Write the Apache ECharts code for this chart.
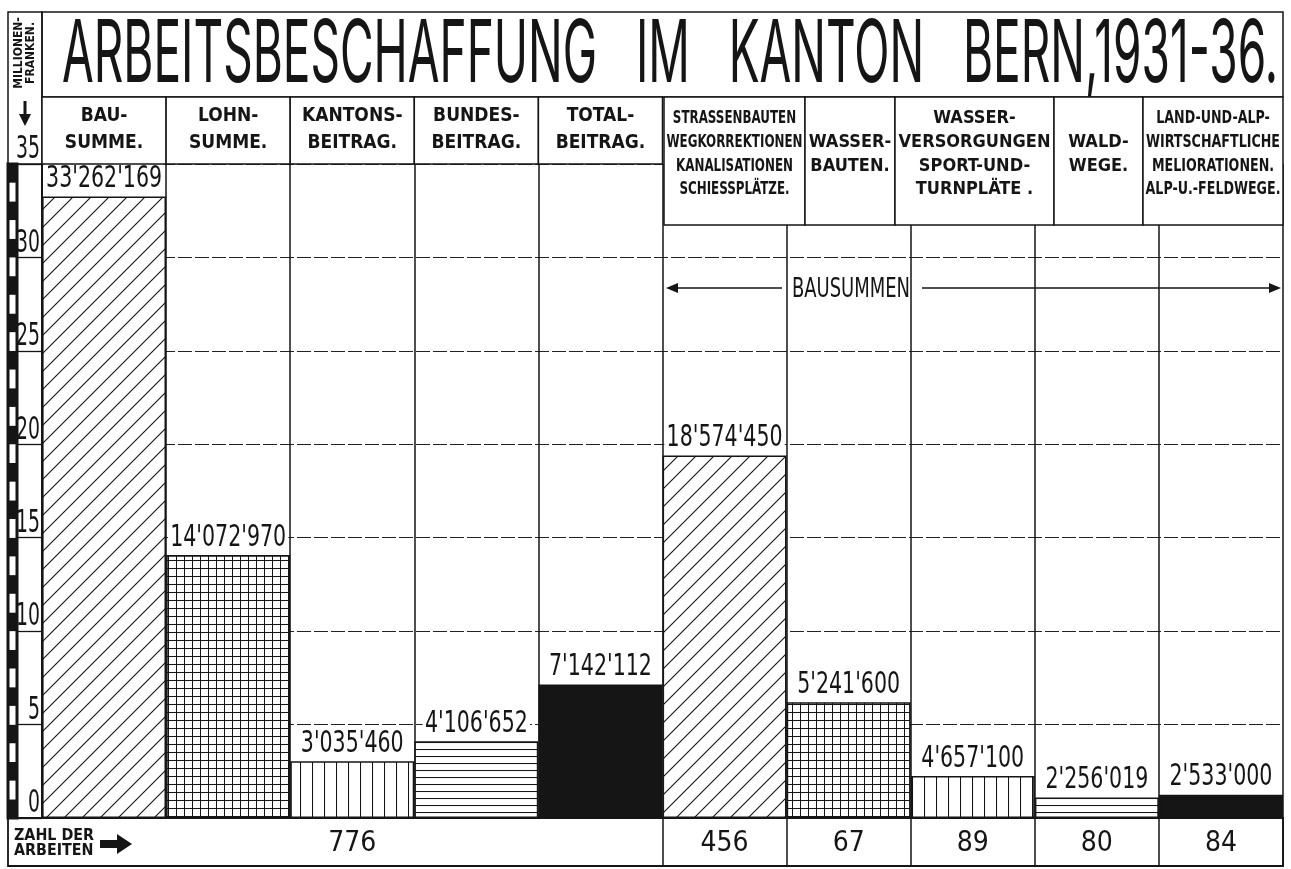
<!DOCTYPE html>
<html><head><meta charset="utf-8">
<script src="https://cdn.jsdelivr.net/npm/echarts@6/dist/echarts.min.js"></script>
<style>html,body{margin:0;padding:0;background:#fff}#c{width:1291px;height:869px}</style>
</head><body><div id="c"></div>
<script>
// ---------------- data ----------------
const titleText = 'ARBEITSBESCHAFFUNG IM KANTON BERN,1931-36.';
const unitLabel = 'MILLIONEN-\nFRANKEN.';
const countLabel = 'ZAHL DER\nARBEITEN';
const groupLabel = 'BAUSUMMEN';
const categories = [
  'BAU-\nSUMME.', 'LOHN-\nSUMME.', 'KANTONS-\nBEITRAG.', 'BUNDES-\nBEITRAG.', 'TOTAL-\nBEITRAG.',
  'STRASSENBAUTEN\nWEGKORREKTIONEN\nKANALISATIONEN\nSCHIESSPLÄTZE.',
  'WASSER-\nBAUTEN.',
  'WASSER-\nVERSORGUNGEN\nSPORT-UND-\nTURNPLÄTE .',
  'WALD-\nWEGE.',
  'LAND-UND-ALP-\nWIRTSCHAFTLICHE\nMELIORATIONEN.\nALP-U.-FELDWEGE.'
];
// figures printed above the bars (Franken)
const printedValues = [33262169, 14072970, 3035460, 4106652, 7142112, 18574450, 5241600, 4657100, 2256019, 2533000];
// bar heights as drawn in the picture (Millionen Franken)
const barHeights = [33.26, 14.07, 3.04, 4.11, 7.14, 19.4, 6.2, 2.25, 1.1, 1.25];
// "Zahl der Arbeiten" row (776 is shared by the first five columns)
const workCounts = ['', '', '776', '', '', '456', '67', '89', '80', '84'];
const yTickLabels = [0, 5, 10, 15, 20, 25, 30, 35];
const yMin = 0, yMax = 35, yStep = 5;

// ---------------- styles / layout ----------------
const NARROW = "'Liberation Sans Narrow','DejaVu Sans Condensed',sans-serif";
const TITLEF = "Inter,'DejaVu Sans Condensed',sans-serif";
const INK = '#151515';
const L = 42, R = 1283, T = 164, B = 818;
const FL = 8, FT = 12, TITLE_B = 97, RHEAD_B = 225, FB = 866;
const colW = (R - L) / categories.length;
const rightHeadEdges = [664, 805, 895, 1054, 1143, 1283];
const patternKinds = ['diag', 'grid', 'vert', 'horiz', 'solid', 'diag', 'grid', 'vert', 'horiz', 'solid'];

function makePattern(kind) {
  if (kind === 'solid') return INK;
  const c = document.createElement('canvas');
  const dims = {diag: [18, 18], grid: [8, 8], vert: [12, 4], horiz: [4, 7]}[kind];
  const w = dims[0], h = dims[1];
  c.width = w; c.height = h;
  const ctx = c.getContext('2d');
  ctx.fillStyle = '#fff'; ctx.fillRect(0, 0, w, h);
  ctx.strokeStyle = INK; ctx.lineWidth = 1.1;
  ctx.beginPath();
  if (kind === 'diag') {
    ctx.moveTo(-2, h + 2); ctx.lineTo(w + 2, -2);
    ctx.moveTo(-2, 2); ctx.lineTo(2, -2);
    ctx.moveTo(w - 2, h + 2); ctx.lineTo(w + 2, h - 2);
  } else if (kind === 'grid') {
    ctx.lineWidth = 1;
    ctx.moveTo(0.5, 0); ctx.lineTo(0.5, h); ctx.moveTo(0, 0.5); ctx.lineTo(w, 0.5);
  } else if (kind === 'vert') {
    ctx.moveTo(0.5, 0); ctx.lineTo(0.5, h);
  } else {
    ctx.moveTo(0, 0.5); ctx.lineTo(w, 0.5);
  }
  ctx.stroke();
  return {image: c, repeat: 'repeat'};
}

const mctx = document.createElement('canvas').getContext('2d');
function textW(str, size, fam, weight) {
  mctx.font = (weight || 'normal') + ' ' + size + 'px ' + fam;
  return Math.max.apply(null, str.split('\n').map(s => mctx.measureText(s).width));
}
function fit(str, size, fam, weight, maxW) {
  return Math.min(1, maxW / textW(str, size, fam, weight));
}
function fmtNum(n) { return String(n).replace(/\B(?=(\d{3})+(?!\d))/g, "'"); }

const VAL_FS = 31;
const valScale = Math.min.apply(null, printedValues.map(v => fit(fmtNum(v), VAL_FS, NARROW, 'normal', 116)));
const TICK_FS = 32;
const tickScale = fit('35', TICK_FS, NARROW, 'normal', 24);

// ---------------- graphics (frame, headers, annotations) ----------------
const g = [];
const Z = 20;
function rect(x, y, w, h, fill, lw, z) {
  g.push({type: 'rect', z: z || Z, shape: {x: x, y: y, width: w, height: h},
    style: {fill: fill || 'none', stroke: INK, lineWidth: lw || 1.5}});
}
function line(x1, y1, x2, y2, lw) {
  g.push({type: 'line', z: Z + 1, shape: {x1: x1, y1: y1, x2: x2, y2: y2}, style: {stroke: INK, lineWidth: lw || 1.5}});
}
function text(str, cx, cy, size, fam, weight, maxW, lh, extra) {
  const s = maxW ? fit(str, size, fam, weight, maxW) : 1;
  g.push(Object.assign({type: 'text', z: Z + 2, x: cx, y: cy, scaleX: s,
    style: {text: str, fontSize: size, fontFamily: fam, fontWeight: weight || 'normal', fill: INK,
      align: 'center', verticalAlign: 'middle', lineHeight: lh || size * 1.2}}, extra || {}));
}

// title box + title (words set wide apart as in the lettering)
rect(L, FT, R - L, TITLE_B - FT, '#fff');
const titleShown = titleText.split(' ').join('   ');
const tScale = 1216 / textW(titleShown, 86, TITLEF, 400);
g.push({type: 'text', z: Z + 2, x: 670, y: 56, scaleX: tScale,
  style: {text: titleShown, fontSize: 86, fontFamily: TITLEF, fontWeight: 400, fill: INK, align: 'center', verticalAlign: 'middle'}});

// left strip box
rect(FL, FT, L - FL, B - FT, 'none', 1.5);
line(FL, T, L, T);
text(unitLabel, 25, 53, 12, NARROW, 'bold', 76, 12, {rotation: Math.PI / 2});
g.push({type: 'polygon', z: Z + 2, shape: {points: [[23.5, 101], [26.5, 101], [26.5, 114], [31, 114], [25, 126], [19, 114], [23.5, 114]]}, style: {fill: INK}});
g.push({type: 'rect', z: Z, shape: {x: FL, y: T, width: 9, height: B - T}, style: {fill: 'none', stroke: INK, lineWidth: 3}});

// header cells
categories.forEach(function (name, i) {
  let x0, x1, y1, cy, lh, size;
  if (i < 5) { x0 = L + i * colW; x1 = x0 + colW; y1 = T; cy = 130; lh = 27; size = 19; }
  else { x0 = rightHeadEdges[i - 5]; x1 = rightHeadEdges[i - 4]; y1 = RHEAD_B; cy = 154; lh = 23.7; size = 18; }
  rect(x0, TITLE_B, x1 - x0, y1 - TITLE_B, '#fff');
  text(name, (x0 + x1) / 2, cy, size, NARROW, 'bold', x1 - x0 - 5, lh);
});

// BAUSUMMEN arrow
text(groupLabel, 851, 290, 27, NARROW, 'normal', 118, 30);
line(668, 288, 782, 288, 1.6);
line(922, 288, 1276, 288, 1.6);
g.push({type: 'polygon', z: Z + 2, shape: {points: [[666, 288], [678, 283], [678, 293]]}, style: {fill: INK}});
g.push({type: 'polygon', z: Z + 2, shape: {points: [[1281, 288], [1269, 283], [1269, 293]]}, style: {fill: INK}});

// bottom row
rect(FL, B, R - FL, FB - B, 'none', 1.8);
g.push({type: 'text', z: Z + 2, x: 14, y: 843, scaleX: fit(countLabel, 16, NARROW, 'bold', 80),
  style: {text: countLabel, fontSize: 16, fontFamily: NARROW, fontWeight: 'bold', fill: INK, align: 'left', verticalAlign: 'middle', lineHeight: 15}});
g.push({type: 'polygon', z: Z + 2, shape: {points: [[100, 840], [117, 840], [117, 834], [132, 844], [117, 854], [117, 848], [100, 848]]}, style: {fill: INK}});

// ---------------- chart ----------------
const chart = echarts.init(document.getElementById('c'), null, {renderer: 'canvas'});
chart.setOption({
  animation: false,
  backgroundColor: '#fff',
  grid: [
    {left: L, right: 1291 - R, top: T, bottom: 869 - B, containLabel: false},
    {left: FL, width: 9, top: T, bottom: 869 - B, containLabel: false}
  ],
  xAxis: [
    {type: 'category', gridIndex: 0, data: categories,
      axisLine: {show: true, lineStyle: {color: INK, width: 2}},
      axisTick: {show: true, length: 48, interval: function (i) { return i >= 5; }, lineStyle: {color: INK, width: 1.5}},
      splitLine: {show: true, interval: 0, lineStyle: {color: INK, width: 1.5}},
      axisLabel: {interval: 0, margin: 12, fontSize: 28, fontFamily: NARROW, color: INK,
        formatter: function (v, i) { return workCounts[i]; }}},
    {type: 'value', gridIndex: 1, min: 0, max: 1, show: false}
  ],
  yAxis: [
    {type: 'value', gridIndex: 0, min: yMin, max: yMax, interval: yStep,
      axisLine: {show: true, lineStyle: {color: INK, width: 1.8}},
      axisTick: {show: true, length: 25, lineStyle: {color: INK, width: 1.3}},
      axisLabel: {show: false},
      splitLine: {show: true, lineStyle: {color: '#222', width: 1, type: [14, 3]}}},
    {type: 'value', gridIndex: 0, min: yMin, max: yMax, interval: yStep / 2, offset: 15,
      axisLine: {show: false}, axisLabel: {show: false}, splitLine: {show: false},
      axisTick: {show: true, length: 10, lineStyle: {color: INK, width: 1.3}}},
    {type: 'value', gridIndex: 1, min: yMin, max: yMax, interval: 1,
      axisLine: {show: false}, axisLabel: {show: false}, axisTick: {show: false}, splitLine: {show: false},
      splitArea: {show: true, areaStyle: {color: [INK, '#fff']}}}
  ],
  series: [
    {type: 'bar', xAxisIndex: 0, yAxisIndex: 0, barCategoryGap: '0%', barGap: '0%',
      data: barHeights.map(function (v, i) { return {value: v, itemStyle: {color: makePattern(patternKinds[i])}}; }),
      itemStyle: {borderColor: INK, borderWidth: 1.6}},
    // printed figures above the bars
    {type: 'custom', xAxisIndex: 0, yAxisIndex: 0, z: 6, clip: false, silent: true,
      data: barHeights.map(function (v, i) { return [i, v]; }),
      renderItem: function (params, api) {
        const p = api.coord([api.value(0), api.value(1)]);
        return {type: 'text', x: p[0], y: p[1] - 2, scaleX: valScale,
          style: {text: fmtNum(printedValues[params.dataIndex]), fontSize: VAL_FS, fontFamily: NARROW, fill: INK,
            align: 'center', verticalAlign: 'bottom', backgroundColor: '#fff', padding: [1, 3, 0, 3]}};
      }},
    // y tick labels inside the left strip
    {type: 'custom', xAxisIndex: 0, yAxisIndex: 0, z: 6, clip: false, silent: true,
      data: yTickLabels.map(function (v) { return [0, v]; }),
      renderItem: function (params, api) {
        const p = api.coord([0, api.value(1)]);
        return {type: 'text', x: L - 2, y: p[1] + 2, scaleX: tickScale, z2: 50,
          style: {text: String(api.value(1)), fontSize: TICK_FS, fontFamily: NARROW, fill: INK,
            align: 'right', verticalAlign: 'bottom'}};
      }},
    {type: 'scatter', xAxisIndex: 1, yAxisIndex: 2, data: [], silent: true}
  ],
  graphic: {elements: g}
});
</script></body></html>
